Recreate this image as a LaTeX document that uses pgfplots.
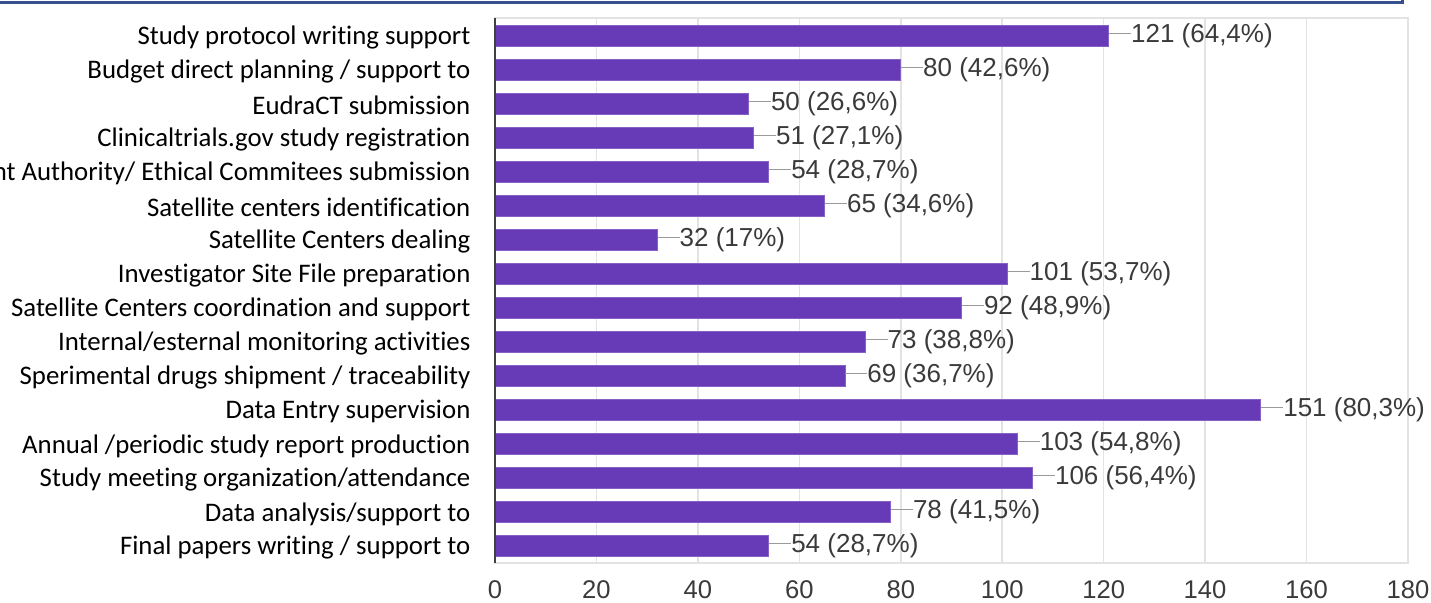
\documentclass[border=0pt]{standalone}
\usepackage{pgfplots}
\pgfplotsset{compat=1.18}
\usepackage{fontspec}
\setmainfont{Carlito}[Ligatures=NoCommon]
\newfontfamily\arial{Liberation Sans}
\definecolor{barpurple}{HTML}{673AB7}
\definecolor{gridgray}{HTML}{E3E3E3}
\definecolor{valgray}{HTML}{3A3A3A}
\definecolor{leadergray}{HTML}{9A9A9A}
\definecolor{boxblue}{HTML}{34508E}
\begin{document}
\begin{tikzpicture}
  % page = 1431x603 px at 0.5pt per px, plot area origin at its lower left
  \path[use as bounding box] (-247.5pt,-20pt) rectangle (468pt,281.5pt);
  \clip (-247.5pt,-20pt) rectangle (468pt,281.5pt);
  \draw[boxblue, line width=1.5pt] (-260pt,280.3pt) -- (453.5pt,280.3pt) -- (453.5pt,290pt);
  \begin{axis}[
    scale only axis,
    width=456.5pt, height=272.5pt,
    xbar, bar width=10.5pt,
    xmin=0, xmax=180,
    ymin=-0.52, ymax=15.5,
    y dir=reverse,
    xtick={0,20,...,180},
    ytick={0,...,15},
    yticklabels={Study protocol writing support,
      Budget direct planning / support to,
      EudraCT submission,
      Clinicaltrials.gov study registration,
      Competent Authority/ Ethical Commitees submission,
      Satellite centers identification,
      Satellite Centers dealing,
      Investigator Site File preparation,
      Satellite Centers coordination and support,
      Internal/esternal monitoring activities,
      Sperimental drugs shipment / traceability,
      Data Entry supervision,
      Annual /periodic study report production,
      Study meeting organization/attendance,
      Data analysis/support to,
      Final papers writing / support to},
    yticklabel style={font=\fontsize{13.4}{14}\selectfont, text=black, xshift=-4.5pt, yshift=-1pt},
    xticklabel style={font=\arial\fontsize{12.8}{14}\selectfont, text=valgray, yshift=-5.5pt},
    /pgf/number format/assume math mode=true,
    major tick style={draw=none},
    xmajorgrids, major grid style={gridgray, line width=0.8pt},
    axis line style={gridgray, line width=0.8pt},
    point meta=explicit symbolic,
    nodes near coords={\textcolor{leadergray}{\rule[0.32em]{11pt}{0.6pt}}\pgfplotspointmeta},
    every node near coord/.append style={anchor=west, inner sep=0pt, xshift=0pt,
      font=\arial\fontsize{13}{14}\selectfont, text=valgray},
    clip=false,
  ]
  \addplot[fill=barpurple, draw=barpurple!80!white, line width=0.4pt]
    coordinates {
      (121,0)  [121 (64,4\%)]
      (80,1)   [80 (42,6\%)]
      (50,2)   [50 (26,6\%)]
      (51,3)   [51 (27,1\%)]
      (54,4)   [54 (28,7\%)]
      (65,5)   [65 (34,6\%)]
      (32,6)   [32 (17\%)]
      (101,7)  [101 (53,7\%)]
      (92,8)   [92 (48,9\%)]
      (73,9)   [73 (38,8\%)]
      (69,10)  [69 (36,7\%)]
      (151,11) [151 (80,3\%)]
      (103,12) [103 (54,8\%)]
      (106,13) [106 (56,4\%)]
      (78,14)  [78 (41,5\%)]
      (54,15)  [54 (28,7\%)]
    };
  \draw[black!75, line width=1pt] (axis cs:0,-0.52) -- (axis cs:0,15.5);
  \end{axis}
\end{tikzpicture}
\end{document}
